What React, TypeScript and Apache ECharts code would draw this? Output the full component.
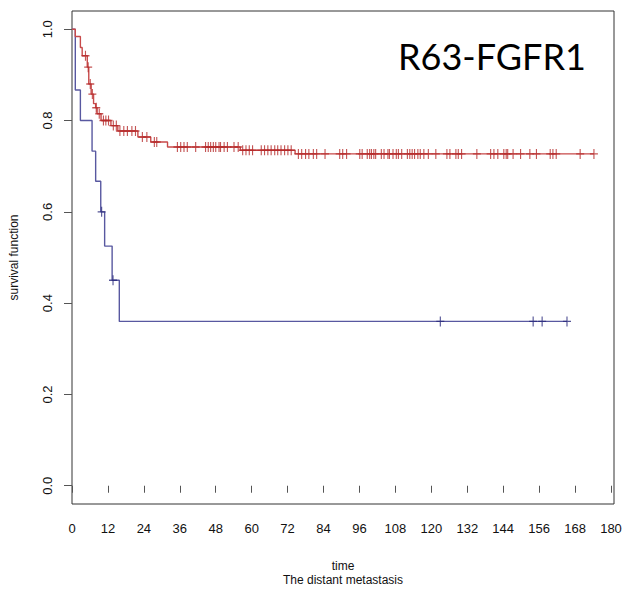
import React, { useEffect, useRef } from "react";
import * as echarts from "echarts";

const xTicks = [0, 12, 24, 36, 48, 60, 72, 84, 96, 108, 120, 132, 144, 156, 168, 180];
const yTicks = [0, 0.2, 0.4, 0.6, 0.8, 1.0];

// R63-FGFR1 high group (red): step times and survival after each step
const redTimes = [0, 1.1, 2.8, 3.4, 5.1, 5.6, 6.4, 7.2, 7.9, 8.4, 9.7, 13.0, 15.3, 22.0, 26.3, 31.9, 56.2, 74.5];
const redSurv = [1.0, 0.984, 0.96, 0.942, 0.917, 0.88, 0.858, 0.837, 0.828, 0.815, 0.8, 0.789, 0.777, 0.764, 0.753, 0.742, 0.735, 0.727];
const redEnd = 174.3;
const redCensor = [
  4.5, 5.4, 6.1, 6.8, 8.1, 9.1, 10.5, 11.3, 12.2, 13.8, 14.8, 16.0, 17.3, 18.5, 20.0, 21.2, 23.5, 25.0, 27.5, 28.3,
  35.2, 36.3, 37.4, 38.5, 41.3, 44.6, 45.5, 46.3, 47.2, 48.0, 49.1, 49.6, 50.8, 51.9, 54.1, 55.5,
  57.0, 58.1, 59.2, 60.3, 63.2, 64.3, 65.4, 66.5, 67.7, 68.7, 69.8, 71.0, 72.1, 73.2,
  75.6, 76.7, 78.0, 79.1, 80.6, 81.7, 84.5, 89.4, 90.4, 91.7, 96.1, 96.9, 98.6, 99.4, 100.0, 100.8, 101.4,
  103.3, 104.2, 105.5, 106.0, 107.2, 108.3, 109.0, 110.1, 112.0, 112.8, 113.6, 114.4, 115.5, 116.3, 117.5,
  119.0, 121.5, 125.2, 126.2, 128.2, 129.0, 130.1, 135.2, 139.8, 140.9, 142.2, 144.2, 145.0, 145.5, 147.3,
  149.8, 152.9, 155.1, 159.7, 160.6, 161.7, 169.7, 174.3,
];

// R63-FGFR1 low group (blue)
const blueTimes = [0, 1.1, 2.8, 6.7, 7.9, 9.6, 10.9, 13.4, 15.8];
const blueSurv = [1.0, 0.867, 0.8, 0.733, 0.667, 0.6, 0.525, 0.45, 0.36];
const blueEnd = 165.3;
const blueCensor = [9.9, 13.7, 123.0, 154.0, 157.0, 165.3];

const RED_LINE = "#c84a4a";
const RED_MARK = "#b52a2a";
const BLUE_LINE = "#5858a0";
const BLUE_MARK = "#28287a";

const PLUS = "path://M4.3,0H5.7V4.3H10V5.7H5.7V10H4.3V5.7H0V4.3H4.3Z";

function survAt(times: number[], surv: number[], t: number): number {
  let v = surv[0];
  for (let i = 0; i < times.length; i++) {
    if (times[i] <= t) v = surv[i];
  }
  return v;
}

function stepData(times: number[], surv: number[], end: number) {
  const d = times.map((t, i) => [t, surv[i]]);
  d.push([end, surv[surv.length - 1]]);
  return d;
}

export default function App() {
  const ref = useRef<HTMLDivElement>(null);
  useEffect(() => {
    if (!ref.current) return;
    const chart = echarts.init(ref.current, null, { renderer: "svg" });
    const axisFont = "'Liberation Sans', Arial, sans-serif";
    chart.setOption({
      animation: false,
      backgroundColor: "#ffffff",
      title: {
        text: "R63-FGFR1",
        left: 393,
        top: 33,
        textStyle: { fontFamily: "Lato, 'Open Sans', sans-serif", fontSize: 36, fontWeight: "normal", color: "#000" },
      },
      grid: {
        left: 69,
        right: 11,
        top: 11,
        bottom: 86,
        show: true,
        borderColor: "#333",
        borderWidth: 1,
        backgroundColor: "transparent",
      },
      xAxis: {
        type: "value",
        min: 0,
        max: 181,
        splitLine: { show: false },
        axisLine: { show: false },
        axisTick: { show: true, length: 7, customValues: xTicks, lineStyle: { color: "#555" } },
        axisLabel: { customValues: xTicks, fontSize: 13, color: "#111", margin: 18, fontFamily: axisFont },
        name: "time\nThe distant metastasis",
        nameLocation: "middle",
        nameGap: 55,
        nameTextStyle: { fontSize: 12, color: "#111", fontFamily: axisFont, lineHeight: 14 },
      },
      yAxis: {
        type: "value",
        min: -0.04,
        max: 1.04,
        splitLine: { show: false },
        axisLine: { show: false },
        axisTick: { show: true, length: 8, customValues: yTicks, lineStyle: { color: "#555" } },
        axisLabel: {
          customValues: yTicks,
          rotate: 90,
          fontSize: 13,
          color: "#111",
          margin: 18,
          fontFamily: axisFont,
          formatter: (v: number) => v.toFixed(1),
        },
        name: "survival function",
        nameLocation: "middle",
        nameGap: 52,
        nameTextStyle: { fontSize: 12, color: "#111", fontFamily: axisFont },
      },
      series: [
        {
          type: "line",
          step: "end",
          showSymbol: false,
          data: stepData(blueTimes, blueSurv, blueEnd),
          lineStyle: { color: BLUE_LINE, width: 1.4 },
          z: 2,
        },
        {
          type: "scatter",
          symbol: PLUS,
          symbolSize: [8, 10],
          data: blueCensor.map((t) => [t, survAt(blueTimes, blueSurv, t)]),
          itemStyle: { color: BLUE_MARK },
          z: 3,
        },
        {
          type: "line",
          step: "end",
          showSymbol: false,
          data: stepData(redTimes, redSurv, redEnd),
          lineStyle: { color: RED_LINE, width: 1.4 },
          z: 2,
        },
        {
          type: "scatter",
          symbol: PLUS,
          symbolSize: [8, 10],
          data: redCensor.map((t) => [t, survAt(redTimes, redSurv, t)]),
          itemStyle: { color: RED_MARK },
          z: 3,
        },
      ],
    });
    return () => chart.dispose();
  }, []);
  return (
    <div
      ref={ref}
      style={{ position: "fixed", left: 0, top: 0, width: 625, height: 592, background: "#fff" }}
    />
  );
}
